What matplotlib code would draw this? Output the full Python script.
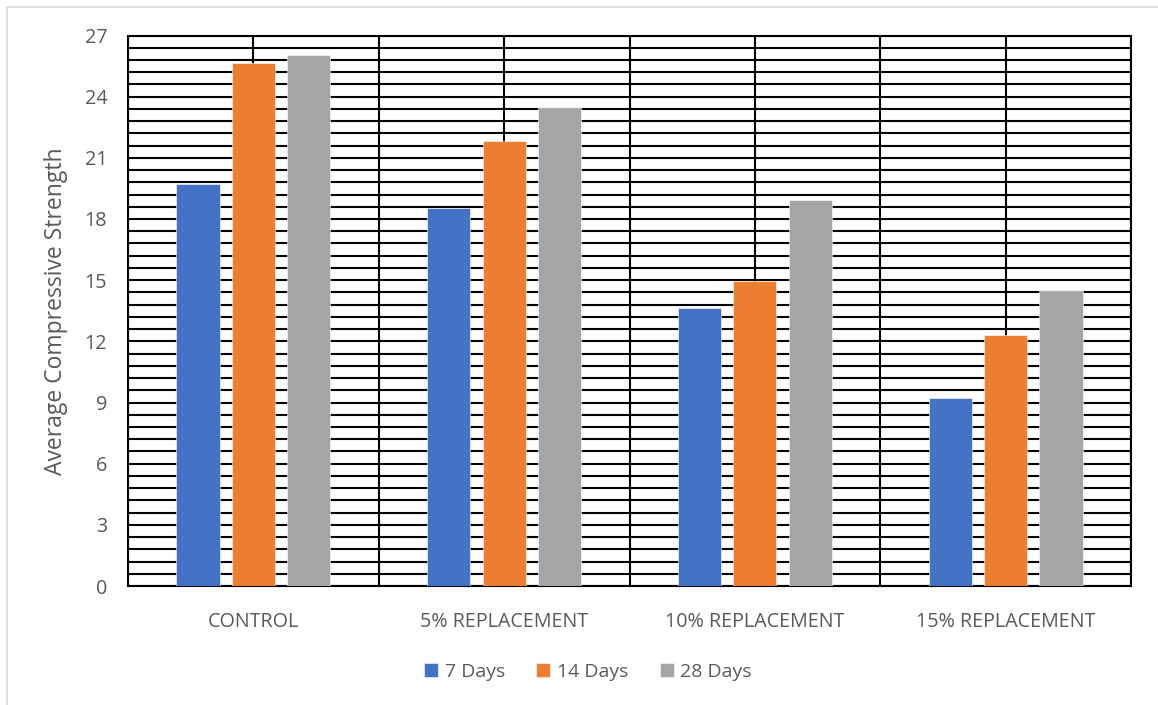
import numpy as np
import matplotlib.pyplot as plt
from matplotlib.patches import Rectangle

plt.rcParams['font.family'] = ['Open Sans', 'DejaVu Sans']

# compressive strength per mix, by curing age
categories = ['CONTROL', '5% REPLACEMENT', '10% REPLACEMENT', '15% REPLACEMENT']
series_names = ['7 Days', '14 Days', '28 Days']
days_7 = [19.7, 18.55, 13.62, 9.2]
days_14 = [25.63, 21.84, 14.97, 12.33]
days_28 = [26.03, 23.46, 18.93, 14.47]
y_ticks = [0, 3, 6, 9, 12, 15, 18, 21, 24, 27]

colors = ['#4472C4', '#ED7D31', '#A5A5A5']
text_color = '#595959'

fig = plt.figure(figsize=(11.58, 7.05), dpi=100)
ax = fig.add_axes([128 / 1158, 1 - 586 / 705, (1131 - 128) / 1158, (586 - 35.5) / 705])

# light chart-area border (runs off the right and bottom edges)
fig.patches.append(Rectangle((7 / 1158, -0.1), 1.1, 1.1 - 7 / 705, transform=fig.transFigure,
                             fill=False, edgecolor='#D9D9D9', linewidth=1.2))

x = np.arange(len(categories))
width = 0.172
step = 0.221
for i, (name, vals) in enumerate(zip(series_names, [days_7, days_14, days_28])):
    ax.bar(x + (i - 1) * step, vals, width, color=colors[i], label=name,
           edgecolor='white', linewidth=0.4, zorder=3)

ax.set_xlim(-0.5, 3.5)
ax.set_ylim(0, 27)

# minor grid every 0.6, verticals at centres and category boundaries
for yv in np.arange(0, 27.01, 0.6):
    ax.axhline(yv, color='black', linewidth=1.5, zorder=1)
for xv in np.arange(-0.5, 3.51, 0.5):
    ax.axvline(xv, color='black', linewidth=1.5, zorder=1)

for s in ax.spines.values():
    s.set_color('black')
    s.set_linewidth(1.5)

ax.set_yticks(y_ticks)
ax.set_xticks(x)
ax.set_xticklabels(categories)
ax.tick_params(axis='both', length=0, labelsize=14.2, colors=text_color)
ax.tick_params(axis='y', pad=15)
ax.tick_params(axis='x', pad=19)

ax.set_ylabel('Average Compressive Strength', fontsize=16.5, color=text_color, labelpad=12)

fig.legend(loc='center', bbox_to_anchor=(588 / 1158, 1 - 672 / 705), ncol=3, frameon=False,
           fontsize=14, handlelength=0.72, handleheight=0.72, handletextpad=0.35,
           columnspacing=1.6, labelcolor=text_color)

fig.savefig('out.png', dpi=100)
